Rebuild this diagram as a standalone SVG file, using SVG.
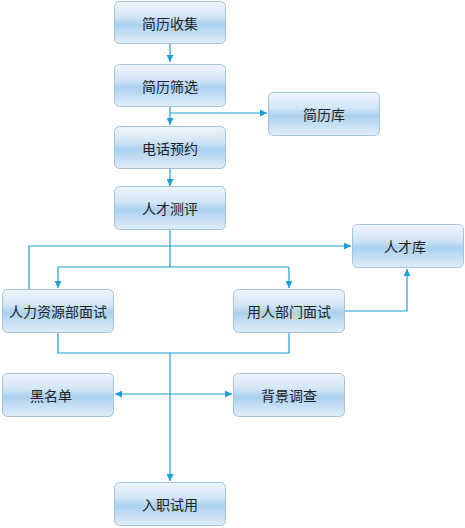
<svg xmlns="http://www.w3.org/2000/svg" width="465" height="528" viewBox="0 0 465 528">
<defs>
<linearGradient id="g" x1="0" y1="0" x2="0" y2="1">
<stop offset="0" stop-color="#eef5fc"/>
<stop offset="0.35" stop-color="#d3e6f6"/>
<stop offset="0.55" stop-color="#aad1ef"/>
<stop offset="0.75" stop-color="#c5def3"/>
<stop offset="1" stop-color="#e0edf9"/>
</linearGradient>
<marker id="a" viewBox="0 0 10 10" refX="10" refY="5" markerWidth="7" markerHeight="7" markerUnits="userSpaceOnUse" orient="auto-start-reverse">
<path d="M0,0 L10,5 L0,10 z" fill="#1c9ed8"/>
</marker>
</defs>
<style>
.n rect{fill:url(#g);stroke:#a4c2da;stroke-width:1}
.n text{font-family:"Noto Sans CJK SC","Liberation Sans",sans-serif;font-size:14px;fill:#222;text-anchor:middle;dominant-baseline:central}
.c path{fill:none;stroke:#1c9ed8;stroke-width:1.2}
</style>
<rect width="465" height="528" fill="#fff"/>
<g class="c">
<path d="M170,43 V62" marker-end="url(#a)"/>
<path d="M170,107 V125" marker-end="url(#a)"/>
<path d="M170,113 H267" marker-end="url(#a)"/>
<path d="M170,169 V186" marker-end="url(#a)"/>
<path d="M170,230 V267"/>
<path d="M58,267 H289"/>
<path d="M58,267 V288" marker-end="url(#a)"/>
<path d="M289,267 V288" marker-end="url(#a)"/>
<path d="M29,289 V246 H351" marker-end="url(#a)"/>
<path d="M344,311 H407 V269" marker-end="url(#a)"/>
<path d="M58,333 V353 H289 V333"/>
<path d="M170,353 V481" marker-end="url(#a)"/>
<path d="M115,394 H232" marker-start="url(#a)" marker-end="url(#a)"/>
</g>
<g id="n1" class="n"><rect x="114.5" y="1.5" width="111" height="42" rx="5"/><text x="170" y="22.5">简历收集</text></g>
<g id="n2" class="n"><rect x="114.5" y="64.5" width="111" height="42" rx="5"/><text x="170" y="85.5">简历筛选</text></g>
<g id="n3" class="n"><rect x="268.5" y="92.5" width="111" height="43" rx="5"/><text x="324" y="114">简历库</text></g>
<g id="n4" class="n"><rect x="114.5" y="126.5" width="111" height="42" rx="5"/><text x="170" y="147.5">电话预约</text></g>
<g id="n5" class="n"><rect x="114.5" y="186.5" width="111" height="43" rx="5"/><text x="170" y="208">人才测评</text></g>
<g id="n6" class="n"><rect x="352.5" y="224.5" width="111" height="43" rx="5"/><text x="405" y="246">人才库</text></g>
<g id="n7" class="n"><rect x="2.5" y="289.5" width="111" height="43" rx="5"/><text x="58" y="311">人力资源部面试</text></g>
<g id="n8" class="n"><rect x="233.5" y="289.5" width="111" height="43" rx="5"/><text x="289" y="311">用人部门面试</text></g>
<g id="n9" class="n"><rect x="2.5" y="373.5" width="111" height="43" rx="5"/><text x="51" y="395">黑名单</text></g>
<g id="n10" class="n"><rect x="233.5" y="373.5" width="111" height="43" rx="5"/><text x="289" y="395">背景调查</text></g>
<g id="n11" class="n"><rect x="114.5" y="482.5" width="111" height="43" rx="5"/><text x="170" y="504">入职试用</text></g>
</svg>
